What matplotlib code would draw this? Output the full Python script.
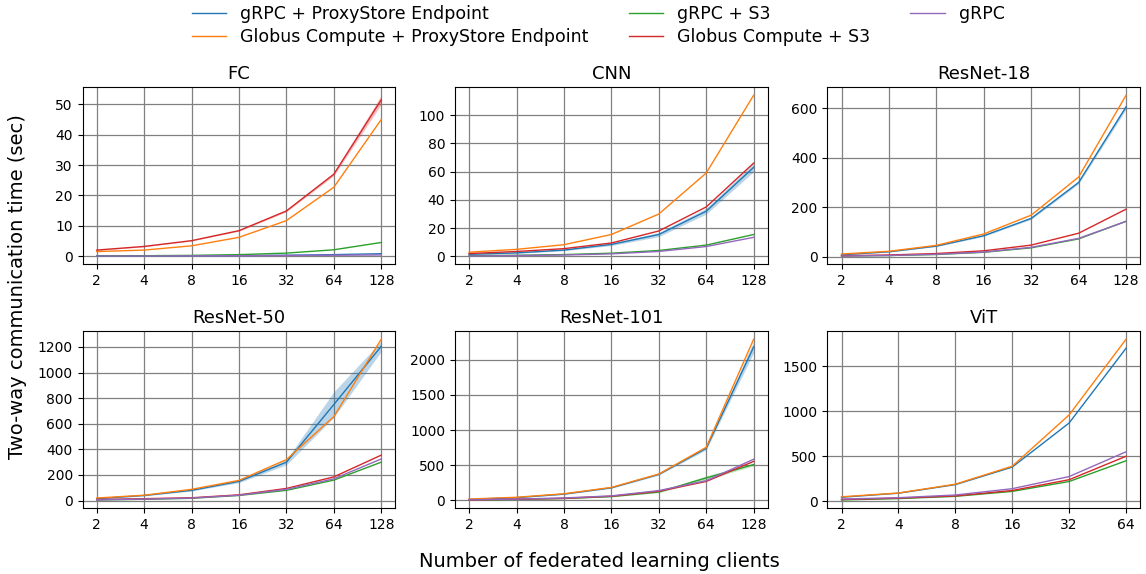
import numpy as np
import matplotlib.pyplot as plt
from matplotlib.ticker import MultipleLocator

clients = [2, 4, 8, 16, 32, 64, 128]
clients_vit = [2, 4, 8, 16, 32, 64]

series_names = ['gRPC + ProxyStore Endpoint', 'Globus Compute + ProxyStore Endpoint',
                'gRPC + S3', 'Globus Compute + S3', 'gRPC']
series_colors = ['tab:blue', 'tab:orange', 'tab:green', 'tab:red', 'tab:purple']
panel_titles = ['FC', 'CNN', 'ResNet-18', 'ResNet-50', 'ResNet-101', 'ViT']
y_steps = [10, 20, 200, 200, 500, 500]

# mean two-way communication time (sec), order follows series_names
fc_vals = [
    [0.1, 0.1, 0.15, 0.2, 0.3, 0.5, 0.8],
    [1.5, 2.0, 3.4, 6.2, 11.7, 22.7, 45.0],
    [0.1, 0.15, 0.25, 0.5, 1.0, 2.1, 4.5],
    [2.0, 3.2, 5.1, 8.4, 14.9, 27.0, 51.5],
    [0.05, 0.05, 0.1, 0.15, 0.2, 0.3, 0.4],
]
cnn_vals = [
    [1.5, 2.5, 4.5, 8.5, 15.5, 32.0, 63.0],
    [3.0, 5.0, 8.3, 15.5, 30.0, 59.0, 114.0],
    [0.5, 0.8, 1.3, 2.3, 4.2, 8.0, 15.5],
    [2.0, 3.5, 5.5, 9.5, 18.0, 35.0, 66.0],
    [0.3, 0.6, 1.0, 1.8, 3.5, 7.0, 13.5],
]
r18_vals = [
    [8, 20, 43, 85, 155, 300, 605],
    [11, 22, 46, 92, 168, 322, 652],
    [3, 5, 9, 18, 36, 72, 143],
    [4, 7, 13, 24, 47, 95, 192],
    [3, 5, 10, 19, 38, 74, 143],
]
r50_vals = [
    [15, 40, 80, 150, 300, 750, 1205],
    [20, 42, 88, 158, 320, 655, 1260],
    [5, 10, 18, 40, 80, 160, 300],
    [8, 15, 22, 45, 95, 185, 355],
    [6, 12, 20, 42, 88, 170, 325],
]
r101_vals = [
    [15, 40, 90, 180, 370, 740, 2180],
    [20, 45, 95, 185, 375, 755, 2290],
    [8, 15, 28, 55, 120, 320, 510],
    [8, 18, 30, 60, 130, 270, 555],
    [10, 20, 35, 65, 140, 280, 585],
]
vit_vals = [
    [45, 90, 185, 380, 870, 1700],
    [50, 92, 190, 390, 960, 1800],
    [15, 30, 55, 110, 220, 450],
    [20, 35, 60, 120, 240, 500],
    [25, 40, 70, 140, 275, 550],
]

# spread (std) of the runs, only where it is visible
spreads = {
    ('FC', 3): [0.1, 0.1, 0.1, 0.2, 0.3, 0.5, 1.5],
    ('CNN', 0): [0.2, 0.3, 0.5, 0.8, 1.5, 2.0, 3.0],
    ('ResNet-18', 0): [1, 1, 2, 3, 4, 6, 10],
    ('ResNet-50', 0): [2, 3, 5, 10, 20, 100, 40],
    ('ResNet-101', 0): [2, 3, 5, 8, 10, 20, 80],
    ('ResNet-101', 2): [1, 2, 3, 5, 10, 30, 15],
}

panel_x = [clients, clients, clients, clients, clients, clients_vit]
panel_vals = [fc_vals, cnn_vals, r18_vals, r50_vals, r101_vals, vit_vals]

fig, axes = plt.subplots(2, 3, figsize=(11.46, 5.74), dpi=100)
fig.subplots_adjust(left=0.072, right=0.995, top=0.848, bottom=0.115,
                    wspace=0.19, hspace=0.38)

for ax, title, xs, vals, step in zip(axes.flat, panel_titles, panel_x, panel_vals, y_steps):
    for i, (name, color) in enumerate(zip(series_names, series_colors)):
        ax.plot(xs, vals[i], color=color, lw=1.0, label=name)
        if (title, i) in spreads:
            m = np.array(vals[i], dtype=float)
            s = np.array(spreads[(title, i)], dtype=float)
            ax.fill_between(xs, m - s, m + s, color=color, alpha=0.3, lw=0)
    ax.set_xscale('log', base=2)
    ax.set_xticks(xs)
    ax.set_xticklabels([str(v) for v in xs])
    ax.minorticks_off()
    ax.yaxis.set_major_locator(MultipleLocator(step))
    ax.set_title(title, fontsize=13)
    ax.grid(True, color='gray', lw=0.9)
    ax.set_axisbelow(True)
    ax.tick_params(labelsize=10)

handles, labels = axes[0, 0].get_legend_handles_labels()
fig.legend(handles, labels, loc='upper center', ncol=3, frameon=False,
           fontsize=12.5, bbox_to_anchor=(0.522, 1.01), columnspacing=2.3,
           handlelength=2.0, handletextpad=0.8, borderaxespad=0.2,
           labelspacing=0.3)

fig.text(0.015, 0.5, 'Two-way communication time (sec)', rotation=90,
         va='center', ha='center', fontsize=14)
fig.text(0.523, 0.021, 'Number of federated learning clients', ha='center',
         va='center', fontsize=14)

fig.savefig('out.png', dpi=100)
